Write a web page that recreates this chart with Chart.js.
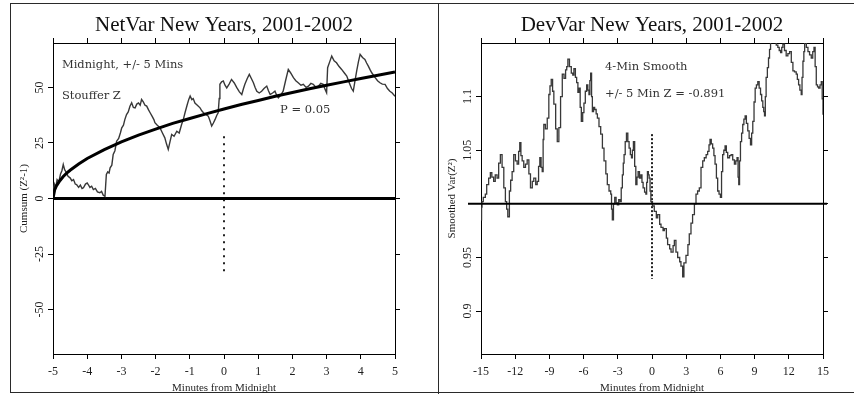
<!DOCTYPE html>
<html>
<head>
<meta charset="utf-8">
<title>NetVar / DevVar New Years, 2001-2002</title>
<script src="https://cdn.jsdelivr.net/npm/chart.js@4.4.1/dist/chart.umd.min.js"></script>
<style>
  html, body { margin: 0; padding: 0; background: #fff; }
  #page { position: relative; width: 854px; height: 395px; overflow: hidden; background: #fff; }
  .frame { position: absolute; left: 10px; top: 3px; width: 850px; height: 390px;
           border: 1px solid #2a2a2a; border-right: none; box-sizing: border-box; }
  .divider { position: absolute; left: 438px; top: 3px; width: 1px; height: 391px; background: #2a2a2a; }
  canvas { position: absolute; top: 0; }
  #netvar { left: 0; }
  #devvar { left: 440px; }
</style>
</head>
<body>
<div id="page">
  <div class="frame"></div>
  <div class="divider"></div>
  <canvas id="netvar" width="440" height="395"></canvas>
  <canvas id="devvar" width="414" height="395"></canvas>
</div>
<script>
// ---------- NetVar: cumulative Stouffer Z^2 - 1, midnight +/- 5 minutes ----------
const netMinutes = [
  -5.00,-4.96,-4.92,-4.88,-4.83,-4.78,-4.74,-4.70,-4.66,-4.62,-4.56,-4.50,-4.45,-4.40,-4.35,-4.31,
  -4.25,-4.20,-4.15,-4.11,-4.05,-4.00,-3.97,-3.92,-3.87,-3.82,-3.76,-3.70,-3.63,-3.58,-3.53,-3.48,
  -3.46,-3.44,-3.40,-3.36,-3.33,-3.28,-3.24,-3.19,-3.14,-3.08,-3.03,-2.99,-2.94,-2.90,-2.85,-2.80,
  -2.75,-2.70,-2.65,-2.60,-2.55,-2.50,-2.45,-2.41,-2.36,-2.31,-2.26,-2.21,-2.16,-2.10,-2.05,-2.02,
  -1.95,-1.87,-1.80,-1.73,-1.68,-1.63,-1.58,-1.53,-1.46,-1.38,-1.31,-1.24,-1.19,-1.14,-1.08,-1.03,
  -0.99,-0.94,-0.90,-0.85,-0.78,-0.70,-0.65,-0.60,-0.53,-0.46,-0.41,-0.36,-0.31,-0.26,-0.21,-0.17,
  -0.14,-0.12,-0.07,-0.02,0.03,0.08,0.15,0.22,0.30,0.37,0.45,0.52,0.57,0.61,0.68,0.74,
  0.80,0.86,0.91,0.96,1.03,1.10,1.17,1.25,1.30,1.35,1.42,1.49,1.54,1.59,1.66,1.73,
  1.80,1.88,1.95,2.03,2.10,2.17,2.25,2.32,2.40,2.47,2.54,2.61,2.68,2.76,2.83,2.90,
  2.96,3.00,3.03,3.09,3.15,3.22,3.29,3.36,3.44,3.52,3.59,3.64,3.68,3.73,3.78,3.83,
  3.88,3.93,3.98,4.05,4.12,4.17,4.22,4.27,4.32,4.37,4.42,4.49,4.56,4.63,4.71,4.78,
  4.85,4.92,5.00
];
const netCumsum = [
  3.0,6.5,5.0,8.5,7.5,11.0,12.5,15.3,13.0,12.0,10.0,9.3,8.0,8.5,6.5,6.3,
  5.0,6.0,4.5,4.8,6.5,7.0,6.3,5.0,5.5,4.0,4.5,3.0,2.6,3.2,1.5,1.0,
  6.0,10.8,12.0,11.5,13.8,15.0,19.8,21.5,25.8,27.0,29.5,31.8,33.0,35.5,37.8,39.0,
  41.5,43.1,41.0,40.8,42.5,43.0,42.0,44.6,43.5,42.0,41.6,40.0,38.6,37.0,35.5,34.1,
  33.0,31.8,29.5,27.3,24.5,22.1,25.5,28.8,28.0,30.3,29.5,33.3,35.5,38.6,42.0,44.6,
  46.1,44.5,45.0,43.0,42.0,40.8,39.5,38.6,37.8,37.1,35.0,32.6,34.0,35.6,37.5,38.6,
  45.0,51.4,52.5,52.9,51.0,49.8,51.5,53.6,52.0,50.0,48.0,46.8,49.5,51.4,54.0,55.9,
  54.0,52.1,50.0,48.3,47.5,48.3,49.5,50.6,48.5,46.8,47.5,48.3,46.5,45.3,46.5,48.3,
  53.0,58.1,56.5,54.4,53.0,52.1,51.0,51.4,50.0,50.6,51.8,51.4,50.2,50.6,51.8,51.4,
  49.0,47.6,58.9,61.5,64.1,62.0,61.1,59.5,58.1,56.5,55.1,53.0,51.4,49.5,48.3,53.0,
  57.4,61.5,64.9,63.5,62.6,61.0,59.6,58.0,56.6,55.5,54.4,53.0,52.1,51.5,51.4,49.5,
  48.3,47.5,46.0
];
// P = 0.05 envelope
const pMinutes = [-5.00,-4.95,-4.90,-4.80,-4.70,-4.60,-4.50,-4.25,-4.00,-3.50,-3.00,-2.50,-2.00,-1.50,
                  -1.00,-0.50,0.00,0.50,1.00,1.50,2.00,2.50,3.00,3.50,4.00,4.50,5.00];
const pCurve    = [0.0,4.0,5.7,8.0,9.9,11.4,12.7,15.5,18.0,22.0,25.5,28.5,31.2,33.8,
                  36.0,38.2,40.3,42.3,44.1,46.0,47.7,49.4,51.0,52.5,54.0,55.5,57.0];
const netMidnightSpan = [28, -34];
const netXTicks = [-5,-4,-3,-2,-1,0,1,2,3,4,5];
const netYTicks = [-50,-25,0,25,50];
const netYLabels = ['-50','-25','0','25','50'];

// ---------- DevVar: 4-minute smoothed Var(Z^2), midnight +/- 15 minutes ----------
const devMinutes = [
  -15.00,-14.95,-14.91,-14.80,-14.62,-14.50,-14.33,-14.18,-14.05,-13.89,-13.75,-13.59,-13.45,-13.30,-13.15,-13.00,
  -12.86,-12.75,-12.65,-12.51,-12.40,-12.27,-12.13,-11.98,-11.83,-11.70,-11.60,-11.50,-11.39,-11.25,-11.10,-10.95,
  -10.80,-10.66,-10.50,-10.37,-10.20,-10.07,-9.95,-9.84,-9.73,-9.63,-9.55,-9.49,-9.35,-9.19,-9.05,-8.95,
  -8.84,-8.72,-8.61,-8.45,-8.31,-8.17,-8.02,-7.87,-7.72,-7.58,-7.48,-7.38,-7.24,-7.08,-6.95,-6.85,
  -6.72,-6.61,-6.50,-6.41,-6.30,-6.20,-6.08,-5.97,-5.85,-5.73,-5.63,-5.53,-5.45,-5.38,-5.30,-5.23,
  -5.13,-5.03,-4.90,-4.79,-4.65,-4.50,-4.35,-4.21,-4.05,-3.92,-3.77,-3.62,-3.55,-3.48,-3.38,-3.27,
  -3.15,-3.04,-2.92,-2.80,-2.70,-2.60,-2.52,-2.45,-2.35,-2.24,-2.12,-2.01,-1.90,-1.80,-1.72,-1.63,
  -1.52,-1.42,-1.32,-1.22,-1.10,-0.98,-0.88,-0.78,-0.65,-0.54,-0.47,-0.40,-0.32,-0.25,-0.17,-0.10,
  0.04,0.20,0.38,0.50,0.67,0.79,0.97,1.08,1.26,1.37,1.55,1.67,1.85,1.96,2.10,2.25,
  2.43,2.54,2.69,2.80,2.98,3.15,3.27,3.42,3.56,3.72,3.86,4.00,4.15,4.30,4.45,4.59,
  4.75,4.88,5.00,5.09,5.20,5.32,5.43,5.53,5.65,5.76,5.88,6.00,6.10,6.20,6.30,6.41,
  6.52,6.64,6.80,6.94,7.08,7.23,7.35,7.46,7.55,7.61,7.68,7.76,7.86,7.96,8.06,8.17,
  8.28,8.40,8.52,8.64,8.74,8.84,8.95,9.05,9.16,9.28,9.40,9.52,9.62,9.72,9.80,9.87,
  9.94,10.01,10.12,10.22,10.31,10.40,10.58,10.75,10.90,11.04,11.16,11.28,11.38,11.48,11.62,11.77,
  11.92,12.07,12.22,12.36,12.50,12.65,12.75,12.86,12.97,13.09,13.16,13.24,13.32,13.39,13.54,13.68,
  13.82,13.97,14.10,14.21,14.31,14.41,14.52,14.62,14.74,14.85,14.93,15.00
];
const devVar = [
  0.985,0.997,1.002,1.006,1.009,1.018,1.024,1.029,1.025,1.021,1.027,1.024,1.038,1.046,1.034,1.015,
  1.002,0.995,0.988,1.012,1.022,1.030,1.046,1.040,1.037,1.049,1.057,1.045,1.040,1.034,1.037,1.041,
  1.028,1.015,1.021,1.024,1.018,1.021,1.035,1.043,1.034,1.030,1.060,1.074,1.070,1.080,1.102,1.110,
  1.116,1.105,1.093,1.070,1.058,1.071,1.100,1.121,1.117,1.125,1.128,1.135,1.128,1.122,1.120,1.126,
  1.118,1.113,1.104,1.108,1.090,1.077,1.085,1.094,1.105,1.111,1.106,1.102,1.115,1.122,1.100,1.086,
  1.090,1.088,1.084,1.080,1.072,1.065,1.052,1.040,1.028,1.018,1.012,1.009,0.995,0.985,1.000,1.006,
  1.001,0.999,1.004,1.002,1.015,1.027,1.038,1.046,1.058,1.066,1.058,1.052,1.046,1.043,1.050,1.058,
  1.035,1.018,1.025,1.030,1.024,1.027,1.020,1.015,1.011,1.009,1.020,1.030,1.027,1.024,1.012,1.002,
  0.998,0.993,0.987,0.990,0.981,0.978,0.975,0.977,0.968,0.962,0.958,0.955,0.961,0.966,0.955,0.950,
  0.946,0.942,0.932,0.945,0.952,0.962,0.972,0.982,0.990,1.000,1.009,1.012,1.015,1.034,1.040,1.043,
  1.046,1.049,1.055,1.060,1.056,1.052,1.045,1.037,1.024,1.012,1.009,1.006,1.030,1.046,1.050,1.054,
  1.048,1.043,1.045,1.046,1.041,1.037,1.040,1.043,1.025,1.018,1.040,1.058,1.066,1.074,1.079,1.082,
  1.075,1.068,1.061,1.055,1.066,1.077,1.095,1.108,1.111,1.114,1.108,1.102,1.096,1.090,1.086,1.082,
  1.100,1.118,1.127,1.136,1.144,1.152,1.155,1.152,1.148,1.146,1.143,1.141,1.146,1.149,1.143,1.138,
  1.140,1.142,1.132,1.124,1.123,1.121,1.116,1.111,1.106,1.102,1.118,1.133,1.142,1.152,1.146,1.142,
  1.139,1.136,1.142,1.146,1.128,1.111,1.109,1.108,1.111,1.114,1.098,1.083
];
const devMidnightSpan = [1.065, 0.93];
const devBaselineSpan = [-16.14, 15.35];
const devXTicks = [-15,-12,-9,-6,-3,0,3,6,9,12,15];
const devYTicks = [0.9,0.95,1,1.05,1.1];
const devYLabels = ['0.9','0.95','','1.05','1.1'];

// ---------- shared styling ----------
const SERIF = '"Liberation Serif", "Times New Roman", serif';
const INK = '#1e1e1e';

const toPoints = (xs, ys) => xs.map((x, i) => ({ x, y: ys[i] }));

// Rotated y tick labels and in-panel notes, placed with the chart's own scales
const panelText = {
  id: 'panelText',
  afterDraw(chart, args, opts) {
    const { ctx, chartArea } = chart;
    const xs = chart.scales.x, ys = chart.scales.y;
    ctx.save();
    ctx.fillStyle = INK;
    ctx.font = '12px ' + SERIF;
    ctx.textAlign = 'center';
    ctx.textBaseline = 'middle';
    opts.yTicks.forEach((v, i) => {
      const label = opts.yLabels[i];
      if (!label) return;
      ctx.save();
      ctx.translate(chartArea.left - 13, ys.getPixelForValue(v));
      ctx.rotate(-Math.PI / 2);
      ctx.fillText(label, 0, 0);
      ctx.restore();
    });
    ctx.fillStyle = '#333';
    ctx.font = '11.5px "DejaVu Serif", serif';
    ctx.textAlign = 'left';
    opts.notes.forEach(n => {
      ctx.fillText(n.text, xs.getPixelForValue(n.x), ys.getPixelForValue(n.y));
    });
    ctx.restore();
  }
};

function axisX(ticks, position, withLabels, titleText) {
  return {
    type: 'linear', position,
    min: ticks[0], max: ticks[ticks.length - 1],
    afterBuildTicks(s) { s.ticks = ticks.map(v => ({ value: v })); },
    ticks: { display: withLabels, autoSkip: false, maxRotation: 0, minRotation: 0,
             padding: 6, color: INK, font: { family: SERIF, size: 12 } },
    grid: { drawOnChartArea: false, color: '#000', tickLength: 5, tickWidth: 1 },
    border: { color: '#000', width: 1 },
    title: { display: !!titleText, text: titleText || '', color: INK,
             font: { family: SERIF, size: 11 }, padding: { top: 0, bottom: 0 } },
    afterFit(s) { s.height = withLabels ? 41 : 6; }
  };
}

function axisY(ticks, min, max, position, titleText) {
  return {
    type: 'linear', position, min, max,
    afterBuildTicks(s) { s.ticks = ticks.map(v => ({ value: v })); },
    ticks: { display: false },
    grid: { drawOnChartArea: false, color: '#000', tickLength: 5, tickWidth: 1 },
    border: { color: '#000', width: 1 },
    title: { display: !!titleText, text: titleText || '', color: INK,
             font: { family: SERIF, size: 11 }, padding: { top: 5, bottom: 0 } },
    afterFit(s) { s.width = titleText ? 40 : 6; }
  };
}

function baseOptions(titleText, padding) {
  return {
    responsive: false,
    animation: false,
    devicePixelRatio: 1,
    events: [],
    layout: { padding },
    plugins: {
      legend: { display: false },
      tooltip: { enabled: false },
      title: { display: true, text: titleText, fullSize: false, color: '#111',
               font: { family: SERIF, size: 21, weight: 'normal', lineHeight: 24 / 21 },
               padding: { top: 0, bottom: 0 } }
    },
    elements: { point: { radius: 0 }, line: { tension: 0 } }
  };
}

// ---------- left panel ----------
const netOpts = baseOptions('NetVar New Years, 2001-2002', { left: 13, right: 39, top: 13, bottom: 0 });
netOpts.scales = {
  x: axisX(netXTicks, 'bottom', true, 'Minutes from Midnight'),
  x2: axisX(netXTicks, 'top', false, ''),
  y: axisY(netYTicks, -70, 70, 'left', 'Cumsum (Z\u00B2-1)'),
  y2: axisY(netYTicks, -70, 70, 'right', '')
};
netOpts.plugins.panelText = {
  yTicks: netYTicks, yLabels: netYLabels,
  notes: [
    { text: 'Midnight, +/- 5 Mins', x: -4.74, y: 60.1 },
    { text: 'Stouffer Z', x: -4.74, y: 46.1 },
    { text: 'P = 0.05', x: 1.64, y: 39.8 }
  ]
};

new Chart(document.getElementById('netvar'), {
  type: 'line',
  data: {
    datasets: [
      { label: 'P = 0.05', data: toPoints(pMinutes, pCurve), borderColor: '#000', borderWidth: 3, order: 1 },
      { label: 'Cumsum', data: toPoints(netMinutes, netCumsum), borderColor: '#383838', borderWidth: 1.4, order: 2 },
      { label: 'Zero', data: [{ x: -5, y: 0 }, { x: 5, y: 0 }], borderColor: '#000', borderWidth: 3, order: 3 },
      { label: 'Midnight', data: [{ x: 0, y: netMidnightSpan[0] }, { x: 0, y: netMidnightSpan[1] }],
        borderColor: '#222', borderWidth: 2, borderDash: [2, 5], order: 4 }
    ]
  },
  options: netOpts,
  plugins: [panelText]
});

// ---------- right panel ----------
const devOpts = baseOptions('DevVar New Years, 2001-2002', { left: 1, right: 25, top: 13, bottom: 0 });
devOpts.scales = {
  x: axisX(devXTicks, 'bottom', true, 'Minutes from Midnight'),
  x2: axisX(devXTicks, 'top', false, ''),
  y: axisY(devYTicks, 0.86, 1.15, 'left', 'Smoothed Var(Z\u00B2)'),
  y2: axisY(devYTicks, 0.86, 1.15, 'right', '')
};
devOpts.plugins.panelText = {
  yTicks: devYTicks, yLabels: devYLabels,
  notes: [
    { text: '4-Min Smooth', x: -4.12, y: 1.128 },
    { text: '+/- 5 Min Z = -0.891', x: -4.12, y: 1.102 }
  ]
};

new Chart(document.getElementById('devvar'), {
  type: 'line',
  data: {
    datasets: [
      { label: 'Smoothed Var', data: toPoints(devMinutes, devVar), borderColor: '#383838', borderWidth: 1.3,
        stepped: true, order: 2 },
      { label: 'Expectation', data: [{ x: devBaselineSpan[0], y: 1 }, { x: devBaselineSpan[1], y: 1 }],
        borderColor: '#000', borderWidth: 2, clip: false, order: 1 },
      { label: 'Midnight', data: [{ x: 0, y: devMidnightSpan[0] }, { x: 0, y: devMidnightSpan[1] }],
        borderColor: '#222', borderWidth: 2, borderDash: [2, 2], order: 3 }
    ]
  },
  options: devOpts,
  plugins: [panelText]
});
</script>
</body>
</html>
